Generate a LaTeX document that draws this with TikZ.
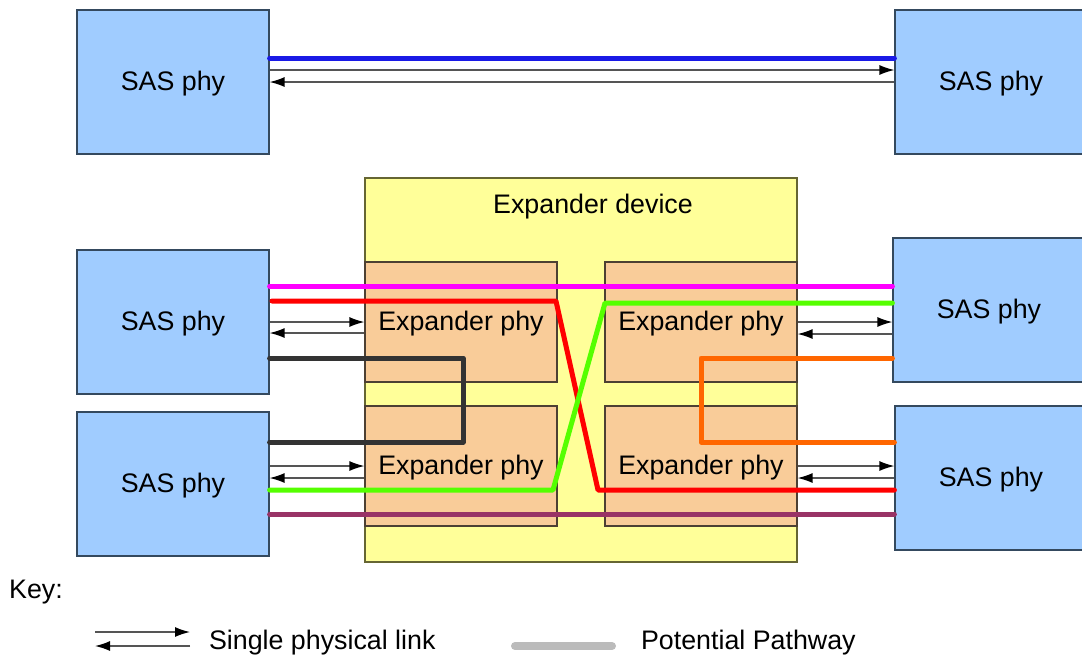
\documentclass[tikz,border=0pt]{standalone}
\usepackage{fontspec}
\setmainfont{Liberation Sans}
\usetikzlibrary{arrows.meta}
\definecolor{sasfill}{HTML}{A0CCFF}
\definecolor{sasdraw}{HTML}{34495E}
\definecolor{expfill}{HTML}{FFFF99}
\definecolor{expdraw}{HTML}{666633}
\definecolor{phyfill}{HTML}{F9CC99}
\definecolor{phydraw}{HTML}{4D4033}
\definecolor{cmag}{HTML}{FF00FF}
\definecolor{cred}{HTML}{FF0000}
\definecolor{cgreen}{HTML}{55FF00}
\definecolor{cdark}{HTML}{333333}
\definecolor{corange}{HTML}{FF6600}
\definecolor{cpurple}{HTML}{993366}
\definecolor{cblue}{HTML}{1A1AE6}
\definecolor{ckey}{HTML}{BBBBBB}
\definecolor{clink}{HTML}{555555}
\tikzset{
  txt/.style={font=\fontsize{13.4}{15}\selectfont, text=black},
  sasbox/.style={draw=sasdraw, fill=sasfill, line width=0.6pt, minimum width=96pt, minimum height=72pt, inner sep=0pt, txt},
  expbox/.style={draw=expdraw, fill=expfill, line width=0.6pt, minimum width=216pt, minimum height=192pt, inner sep=0pt},
  phybox/.style={draw=phydraw, fill=phyfill, line width=0.6pt, minimum width=96pt, minimum height=60pt, inner sep=0pt},
  path/.style={line width=2.5pt, line cap=round, line join=round},
  link/.style={draw=clink, line width=0.7pt, -{Latex[length=7.5pt,width=5pt,color=black]}},
}
\begin{document}
\begin{tikzpicture}[x=0.5pt,y=-0.5pt]
\useasboundingbox (0,0) rectangle (1082,655);
% top pair
\node[sasbox] (A) at (173,82) {};
\node[sasbox] (B) at (991,82) {};
\node[txt] (At) at (173,84) {SAS phy};
\node[txt] (Bt) at (991,84) {SAS phy};
\draw[path, cblue] (A.east |- 0,58) -- (B.west |- 0,58);
\draw[link] (A.east |- 0,70) -- (B.west |- 0,70);
\draw[link] (B.west |- 0,82) -- (A.east |- 0,82);
% expander device
\node[expbox] (X) at (581,370) {};
\node[txt] (XL) at (593,206.5) {Expander device};
\node[phybox] (P1) at (461,322) {};
\node[phybox] (P2) at (701,322) {};
\node[phybox] (P3) at (461,466) {};
\node[phybox] (P4) at (701,466) {};
\node[txt] (T1) at (461,323.5) {Expander phy};
\node[txt] (T2) at (701,323.5) {Expander phy};
\node[txt] (T3) at (461,467.5) {Expander phy};
\node[txt] (T4) at (701,467.5) {Expander phy};
% SAS phys around
\node[sasbox] (C) at (173,322) {};
\node[sasbox] (D) at (173,484) {};
\node[sasbox] (E) at (989,310) {};
\node[sasbox] (F) at (991,478) {};
\node[txt] (Ct) at (173,324) {SAS phy};
\node[txt] (Dt) at (173,486) {SAS phy};
\node[txt] (Et) at (989,312) {SAS phy};
\node[txt] (Ft) at (991,480) {SAS phy};
% physical links
\draw[link] (C.east |- 0,322) -- (P1.west |- 0,322);
\draw[link] (P1.west |- 0,333) -- (C.east |- 0,333);
\draw[link] (D.east |- 0,466) -- (P3.west |- 0,466);
\draw[link] (P3.west |- 0,478) -- (D.east |- 0,478);
\draw[link] (P2.east |- 0,322) -- (E.west |- 0,322);
\draw[link] (E.west |- 0,334) -- (P2.east |- 0,334);
\draw[link] (P4.east |- 0,466) -- (F.west |- 0,466);
\draw[link] (F.west |- 0,478) -- (P4.east |- 0,478);
% pathways
\draw[path, cmag] (C.east |- 0,286) -- (E.west |- 0,286);
\draw[path, cred] (272,301) -- (556,301) -- (598,490) -- (F.west |- 0,490);
\draw[path, cgreen] (D.east |- 0,490) -- (553,490) -- (605,303) -- (E.west |- 0,303);
\draw[path, cdark] (C.east |- 0,358) -- (463,358) -- (463,442) -- (D.east |- 0,442);
\draw[path, corange] (E.west |- 0,358) -- (701,358) -- (701,442) -- (F.west |- 0,442);
\draw[path, cpurple] (D.east |- 0,514) -- (F.west |- 0,514);
% key
\node[txt] (K) at (36,592.5) {Key:};
\coordinate (k1) at (95,632);
\coordinate (k2) at (190,632);
\coordinate (k3) at (95,646);
\coordinate (k4) at (190,646);
\draw[link] (k1) -- (k2);
\draw[link] (k4) -- (k3);
\node[txt, anchor=west] (KL) at (202,642.5) {Single physical link};
\coordinate (g1) at (515,646);
\coordinate (g2) at (612,646);
\draw[line width=4pt, line cap=round, ckey] (g1) -- (g2);
\node[txt, anchor=west] (KP) at (634,642.5) {Potential Pathway};
\end{tikzpicture}
\end{document}
